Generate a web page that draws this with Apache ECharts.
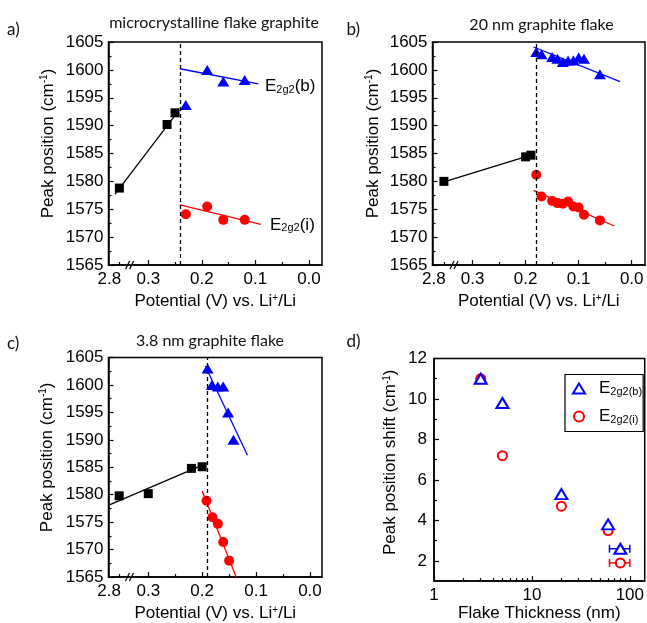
<!DOCTYPE html>
<html><head><meta charset="utf-8">
<script src="https://cdn.jsdelivr.net/npm/echarts@6/dist/echarts.min.js"></script>
<style>html,body{margin:0;padding:0;background:#fff}#c{width:647px;height:623px}</style>
</head><body><div id="c"></div>
<script>
// ---- broken potential axis: 2.8 V is drawn at this axis position ----
const BREAK_POS = 0.354;
const BREAK_MARK = 0.333;

// ---- panel a: microcrystalline flake graphite ----
const aBlackX = [2.8, 0.265, 0.25];
const aBlackY = [1578.8, 1590.2, 1592.3];
const aBlueX = [0.23, 0.19, 0.16, 0.12];
const aBlueY = [1593.7, 1600.0, 1597.9, 1598.2];
const aRedX = [0.23, 0.19, 0.16, 0.12];
const aRedY = [1574.1, 1575.5, 1573.1, 1573.1];
const aBlackFit = [[0.362, 1577.7], [0.244, 1592.6]];
const aBlueFit = [[0.241, 1600.2], [0.0946, 1597.5]];
const aRedFit = [[0.241, 1575.8], [0.090, 1572.3]];

// ---- panel b: 20 nm graphite flake ----
const bBlackX = [2.8, 0.20, 0.19];
const bBlackY = [1580.0, 1584.4, 1584.7];
const bBlueX = [0.18, 0.17, 0.15, 0.14, 0.13, 0.12, 0.11, 0.10, 0.09, 0.06];
const bBlueY = [1603.2, 1602.8, 1602.3, 1602.0, 1601.4, 1601.7, 1601.7, 1602.2, 1602.0, 1599.2];
const bRedX = [0.18, 0.17, 0.15, 0.14, 0.13, 0.12, 0.11, 0.10, 0.09, 0.06];
const bRedY = [1581.2, 1577.3, 1576.5, 1576.1, 1576.0, 1576.4, 1575.5, 1575.3, 1574.0, 1573.0];
const bBlackFit = [[2.8, 1579.9], [0.19, 1584.7]];
const bBlueFit = [[0.185, 1604.1], [0.022, 1597.9]];
const bRedFit = [[0.185, 1578.4], [0.033, 1572.0]];

// ---- panel c: 3.8 nm graphite flake ----
const cBlackX = [2.8, 0.30, 0.22, 0.20];
const cBlackY = [1579.8, 1580.2, 1584.8, 1585.1];
const cBlueX = [0.19, 0.182, 0.171, 0.161, 0.152, 0.142];
const cBlueY = [1603.0, 1600.0, 1599.7, 1599.7, 1595.0, 1590.0];
const cRedX = [0.192, 0.181, 0.171, 0.161, 0.150];
const cRedY = [1578.9, 1575.9, 1574.7, 1571.4, 1568.0];
const cBlackFit = [[0.371, 1578.2], [0.192, 1585.7]];
const cBlueFit = [[0.194, 1603.4], [0.116, 1587.2]];
const cRedFit = [[0.200, 1580.7], [0.137, 1565.0]];

const dashX = [0.241, 0.185, 0.193];
const panelTitles = ['microcrystalline flake graphite', '20 nm graphite flake', '3.8 nm graphite flake'];
const potMajor = [0.0, 0.1, 0.2, 0.3];
const potMinor = [0.05, 0.15, 0.25];

// ---- panel d: peak shift vs flake thickness ----
const dThick = [3.0, 5.0, 20, 60, 80];
const dShiftB = [11.0, 9.8, 5.3, 3.8, 2.6];
const dShiftI = [11.0, 7.2, 4.7, 3.5, 1.9];
const dErrIndex = 4;
const dErrRange = [62, 100];
const dXMajor = [1, 10, 100];
const dXMinor = [2,3,4,5,6,7,8,9,20,30,40,50,60,70,80,90];
const dYMajor = [2, 4, 6, 8, 10, 12];
const dYMinor = [3, 5, 7, 9, 11];

const FONT = 'Liberation Sans';
const TFONT = 'Lato';
const BLUE = '#0000ff', RED = '#ff0000', BLACK = '#000000';

const xmap = v => (v > 1 ? BREAK_POS : v);
const pts = (xs, ys) => xs.map((x, i) => [xmap(x), ys[i]]);
const fit = arr => arr.map(p => [xmap(p[0]), p[1]]);

const axisLine = {show: true, onZero: false, lineStyle: {color: BLACK, width: 1.5}};
const tickStyle = {color: BLACK, width: 1.2};

const supRich = (padLeft) => ({
  n0: {fontSize: 17, color: BLACK, lineHeight: 17, padding: [4, 0, 0, padLeft], verticalAlign: 'bottom', fontFamily: FONT},
  n: {fontSize: 17, color: BLACK, lineHeight: 17, padding: [4, 0, 0, 0], verticalAlign: 'bottom', fontFamily: FONT},
  s: {fontSize: 10, color: BLACK, lineHeight: 10, verticalAlign: 'top', fontFamily: FONT}
});

const grids = [
  {left: 108.5, top: 42, width: 213.5, height: 223},
  {left: 432.5, top: 42, width: 212.5, height: 223},
  {left: 108.5, top: 357.5, width: 213.5, height: 224},
  {left: 434, top: 358.5, width: 211, height: 224}
].map(g => Object.assign({show: true, borderColor: BLACK, borderWidth: 1.5, backgroundColor: 'transparent', containLabel: false}, g));

const potRanges = [[-0.0243, 0.3743], [-0.025, 0.3755], [-0.0223, 0.3738]];

function potAxes(gi) {
  const [min, max] = potRanges[gi];
  return [
    {type: 'value', gridIndex: gi, position: 'bottom', inverse: true, min, max,
     axisLine,
     axisTick: {show: true, inside: true, length: 5, customValues: potMajor, lineStyle: tickStyle},
     axisLabel: {customValues: potMajor.concat([BREAK_POS]), fontSize: 17, color: BLACK, margin: 6, fontFamily: FONT,
       formatter: v => Math.abs(v - BREAK_POS) < 1e-6 ? '{b|2.8}' : v.toFixed(1),
       rich: {b: {fontSize: 17, color: BLACK, padding: [0, 20, 0, 0], fontFamily: FONT}}},
     splitLine: {show: false},
     name: '{n|Potential (V) vs. Li}{s|+}{n|/Li}', nameLocation: 'middle', nameGap: gi === 2 ? 21 : 22,
     nameTextStyle: {fontSize: 17, color: BLACK, rich: supRich(0)}},
    {type: 'value', gridIndex: gi, position: 'bottom', inverse: true, min, max,
     axisLine: {show: false},
     axisTick: {show: true, inside: true, length: 3, customValues: potMinor.concat([BREAK_POS]), lineStyle: tickStyle},
     axisLabel: {show: false}, splitLine: {show: false}}
  ];
}

function peakY(gi, gap) {
  return {type: 'value', gridIndex: gi, min: 1565, max: 1605, interval: 5,
    axisLine,
    axisTick: {show: true, inside: true, length: 5, lineStyle: tickStyle},
    minorTick: {show: true, splitNumber: 2, length: 3, lineStyle: tickStyle},
    axisLabel: {fontSize: 17, color: BLACK, margin: 5, fontFamily: FONT, formatter: v => String(Math.round(v))},
    splitLine: {show: false}, minorSplitLine: {show: false},
    name: '{n0|Peak position (cm}{s|-1}{n|)}', nameLocation: 'middle', nameGap: gap,
    nameTextStyle: {fontSize: 17, color: BLACK, rich: supRich(20)}};
}

const xAxes = [].concat(potAxes(0), potAxes(1), potAxes(2), [
  {type: 'log', logBase: 10, gridIndex: 3, position: 'bottom', min: 1, max: 142,
   axisLine,
   axisTick: {show: true, inside: true, length: 5, customValues: dXMajor, lineStyle: tickStyle},
   axisLabel: {customValues: dXMajor, fontSize: 17, color: BLACK, margin: 6, fontFamily: FONT, formatter: v => String(Math.round(v))},
   splitLine: {show: false}, minorTick: {show: false},
   name: 'Flake Thickness (nm)', nameLocation: 'middle', nameGap: 22,
   nameTextStyle: {fontSize: 17, color: BLACK, fontFamily: FONT}},
  {type: 'log', logBase: 10, gridIndex: 3, position: 'bottom', min: 1, max: 142,
   axisLine: {show: false},
   axisTick: {show: true, inside: true, length: 3, customValues: dXMinor, lineStyle: tickStyle},
   axisLabel: {show: false}, splitLine: {show: false}}
]);

const yAxes = [peakY(0, 52), peakY(1, 51), peakY(2, 53),
  {type: 'value', gridIndex: 3, position: 'left', min: 1, max: 12,
   axisLine,
   axisTick: {show: true, inside: true, length: 5, customValues: dYMajor, lineStyle: tickStyle},
   axisLabel: {customValues: dYMajor, fontSize: 17, color: BLACK, margin: 7, fontFamily: FONT},
   splitLine: {show: false},
   name: '{n0|Peak position shift (cm}{s|-1}{n|)}', nameLocation: 'middle', nameGap: 35,
   nameTextStyle: {fontSize: 17, color: BLACK, rich: supRich(15)}},
  {type: 'value', gridIndex: 3, position: 'left', min: 1, max: 12,
   axisLine: {show: false},
   axisTick: {show: true, inside: true, length: 3, customValues: dYMinor, lineStyle: tickStyle},
   axisLabel: {show: false}, splitLine: {show: false}}
];

const panels = [
  {black: pts(aBlackX, aBlackY), blue: pts(aBlueX, aBlueY), red: pts(aRedX, aRedY), fits: [aBlackFit, aBlueFit, aRedFit]},
  {black: pts(bBlackX, bBlackY), blue: pts(bBlueX, bBlueY), red: pts(bRedX, bRedY), fits: [bBlackFit, bBlueFit, bRedFit]},
  {black: pts(cBlackX, cBlackY), blue: pts(cBlueX, cBlueY), red: pts(cRedX, cRedY), fits: [cBlackFit, cBlueFit, cRedFit]}
];

const series = [];
panels.forEach((p, i) => {
  const xi = i * 2, yi = i;
  const colors = [BLACK, BLUE, RED];
  p.fits.forEach((f, k) => {
    const s = {type: 'line', xAxisIndex: xi, yAxisIndex: yi, data: fit(f), showSymbol: false, symbol: 'none',
      lineStyle: {color: colors[k], width: 1.3, opacity: 1}, silent: true, z: 2};
    if (k === 0) {
      s.markLine = {silent: true, symbol: ['none', 'none'], label: {show: false},
        lineStyle: {type: [4, 3], color: BLACK, width: 1.3, opacity: 1}, data: [{xAxis: dashX[i]}]};
    }
    series.push(s);
  });
  series.push({type: 'scatter', xAxisIndex: xi, yAxisIndex: yi, data: p.black, symbol: 'rect', symbolSize: 9,
    itemStyle: {color: BLACK, opacity: 1}, z: 3});
  series.push({type: 'scatter', xAxisIndex: xi, yAxisIndex: yi, data: p.blue, symbol: 'triangle', symbolSize: [12, 10],
    itemStyle: {color: BLUE, opacity: 1}, z: 3});
  series.push({type: 'scatter', xAxisIndex: xi, yAxisIndex: yi, data: p.red, symbol: 'circle', symbolSize: 10,
    itemStyle: {color: RED, opacity: 1}, z: 3});
  series.push({type: 'custom', xAxisIndex: xi, yAxisIndex: yi, data: [[BREAK_MARK, 1565]], clip: false, silent: true, z: 5,
    renderItem: (params, api) => {
      const c = api.coord([api.value(0), api.value(1)]);
      const st = {stroke: BLACK, lineWidth: 1.2};
      return {type: 'group', children: [
        {type: 'line', shape: {x1: c[0] - 5, y1: c[1] + 4, x2: c[0] - 1, y2: c[1] - 4}, style: st},
        {type: 'line', shape: {x1: c[0] - 1, y1: c[1] + 4, x2: c[0] + 3, y2: c[1] - 4}, style: st}
      ]};
    }});
});

// panel d series
const errRender = (params, api) => {
  const y = api.value(2);
  const a = api.coord([api.value(0), y]), b = api.coord([api.value(1), y]);
  const st = {stroke: api.visual('color'), lineWidth: 1.5};
  return {type: 'group', children: [
    {type: 'line', shape: {x1: a[0], y1: a[1], x2: b[0], y2: b[1]}, style: st},
    {type: 'line', shape: {x1: a[0], y1: a[1] - 4, x2: a[0], y2: a[1] + 4}, style: st},
    {type: 'line', shape: {x1: b[0], y1: b[1] - 4, x2: b[0], y2: b[1] + 4}, style: st}
  ]};
};
series.push({type: 'custom', xAxisIndex: 6, yAxisIndex: 3, data: [[dErrRange[0], dErrRange[1], dShiftI[dErrIndex]]],
  itemStyle: {color: RED, opacity: 1}, renderItem: errRender, z: 2, silent: true});
series.push({type: 'custom', xAxisIndex: 6, yAxisIndex: 3, data: [[dErrRange[0], dErrRange[1], dShiftB[dErrIndex]]],
  itemStyle: {color: BLUE, opacity: 1}, renderItem: errRender, z: 2, silent: true});
series.push({name: 'E2g2(i)', type: 'scatter', xAxisIndex: 6, yAxisIndex: 3, data: dThick.map((t, i) => [t, dShiftI[i]]),
  symbol: 'emptyCircle', symbolSize: 9, itemStyle: {color: RED, borderWidth: 1.5, opacity: 1}, z: 3});
series.push({name: 'E2g2(b)', type: 'scatter', xAxisIndex: 6, yAxisIndex: 3, data: dThick.map((t, i) => [t, dShiftB[i]]),
  symbol: 'emptyTriangle', symbolSize: [12, 10], itemStyle: {color: BLUE, borderWidth: 1.5, opacity: 1}, z: 4});

const eRich = {
  e: {fontSize: 17, color: BLACK, lineHeight: 17, verticalAlign: 'top', fontFamily: FONT},
  ep: {fontSize: 17, color: BLACK, lineHeight: 17, verticalAlign: 'top', padding: [0, 0, 0, 9], fontFamily: FONT},
  s: {fontSize: 11, color: BLACK, lineHeight: 11, padding: [9, 0, 0, 0], verticalAlign: 'bottom', fontFamily: FONT}
};

const titleText = (txt, x, y) => ({type: 'text', x, y, silent: true,
  style: {text: txt, fontFamily: TFONT, fontSize: 16, fill: '#111', align: 'center', verticalAlign: 'middle'}});
const letter = (txt, x, y) => ({type: 'text', x, y, silent: true,
  style: {text: txt, fontFamily: TFONT, fontSize: 17, fill: '#111', align: 'left', verticalAlign: 'middle'}});

const option = {
  animation: false,
  backgroundColor: '#ffffff',
  textStyle: {fontFamily: FONT},
  grid: grids,
  xAxis: xAxes,
  yAxis: yAxes,
  legend: {show: true, orient: 'vertical', left: 565, top: 374.5, data: ['E2g2(b)', 'E2g2(i)'],
    itemWidth: 12, itemHeight: 10, itemGap: 8, padding: [2.5, 1, 6.5, 7],
    borderColor: BLACK, borderWidth: 1.2, borderRadius: 0, selectedMode: false,
    formatter: name => name === 'E2g2(b)' ? '{ep|E}{s|2g2(b)}' : '{ep|E}{s|2g2(i)}',
    textStyle: {fontSize: 17, color: BLACK, rich: eRich}},
  graphic: [
    titleText(panelTitles[0], 214, 23),
    titleText(panelTitles[1], 541.5, 25),
    titleText(panelTitles[2], 210, 341),
    letter('a)', 7, 30), letter('b)', 346.5, 30), letter('c)', 7, 344), letter('d)', 346.5, 342),
    {type: 'text', x: 265, y: 86.5, silent: true, style: {text: '{e|E}{s|2g2}{e|(b)}', rich: eRich, verticalAlign: 'middle', align: 'left'}},
    {type: 'text', x: 270, y: 225, silent: true, style: {text: '{e|E}{s|2g2}{e|(i)}', rich: eRich, verticalAlign: 'middle', align: 'left'}}
  ],
  series
};

const chart = echarts.init(document.getElementById('c'), null, {renderer: 'canvas'});
chart.setOption(option);
</script>
</body></html>
